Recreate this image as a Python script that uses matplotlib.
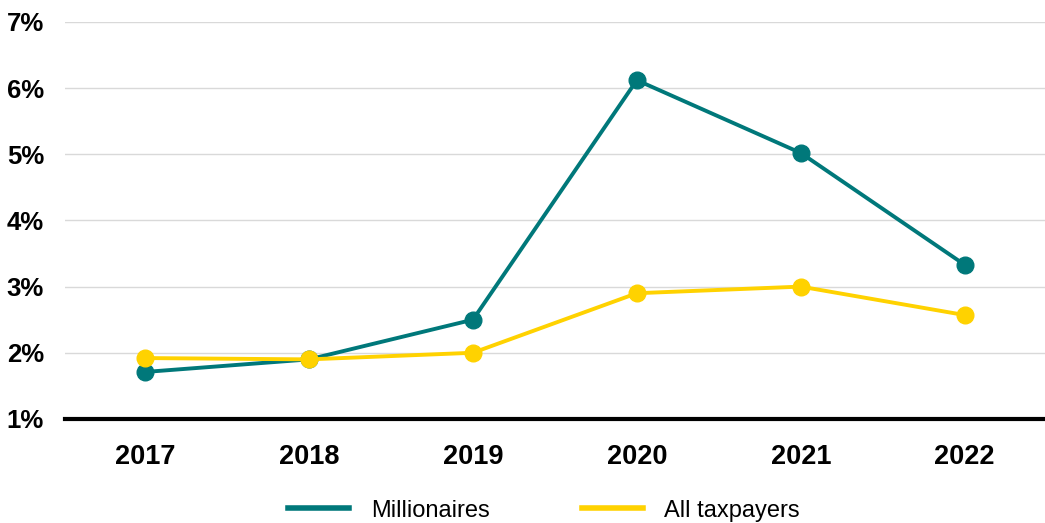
import numpy as np
import matplotlib.pyplot as plt

plt.rcParams['font.family'] = ['Liberation Sans', 'DejaVu Sans']

years = ['2017', '2018', '2019', '2020', '2021', '2022']
millionaires = [1.71, 1.9, 2.5, 6.12, 5.02, 3.33]
all_taxpayers = [1.92, 1.9, 2.0, 2.9, 3.0, 2.57]

teal = '#00787A'
yellow = '#FFD200'

fig = plt.figure(figsize=(10.45, 5.23), dpi=100)
ax = fig.add_axes([0.062, 0.199, 0.938, 0.759])

x = np.arange(len(years))
ax.plot(x, millionaires, color=teal, lw=2.8, marker='o', ms=12, label='Millionaires', zorder=3)
ax.plot(x, all_taxpayers, color=yellow, lw=2.8, marker='o', ms=12, label='All taxpayers', zorder=4)

ax.set_xlim(-0.49, 5.49)
ax.set_ylim(1, 7)
ax.set_yticks(range(1, 8))
ax.set_yticklabels(['%d%%' % v for v in range(1, 8)], fontsize=18.5, fontweight='bold')
ax.set_xticks(x)
ax.set_xticklabels(years, fontsize=19.5, fontweight='bold')
ax.tick_params(axis='x', length=0, pad=18)
ax.tick_params(axis='y', length=0, pad=15)
ax.grid(axis='y', color='#d9d9d9', lw=1)
ax.set_axisbelow(True)
for s in ['top', 'right', 'left']:
    ax.spines[s].set_visible(False)
ax.spines['bottom'].set_linewidth(3)
ax.spines['bottom'].set_color('black')

# legend uses plain lines, no markers
h1, = ax.plot([], [], color=teal, lw=4)
h2, = ax.plot([], [], color=yellow, lw=4)
fig.legend([h1, h2], ['Millionaires', 'All taxpayers'], loc='lower center',
           bbox_to_anchor=(0.5205, -0.038), ncol=2, frameon=False, fontsize=17,
           handlelength=2.6, columnspacing=3.9, handletextpad=0.9)

fig.savefig('out.png', dpi=100)
